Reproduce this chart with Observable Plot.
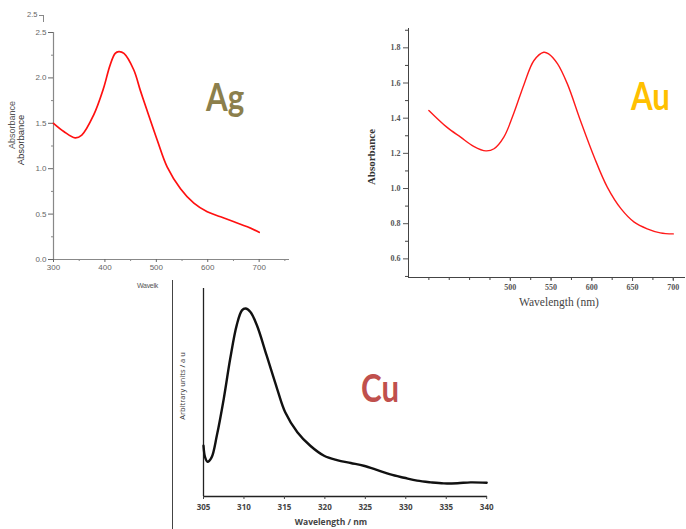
<!DOCTYPE html>
<html>
<head>
<meta charset="utf-8">
<script src="https://cdn.jsdelivr.net/npm/d3@7"></script>
<script src="https://cdn.jsdelivr.net/npm/@observablehq/plot@0.6"></script>
<style>
  html, body { margin: 0; padding: 0; background: #fff; }
  #stage { position: relative; width: 686px; height: 529px; overflow: hidden; background: #fff; }
  .lbl { position: absolute; white-space: nowrap; line-height: 1; }
  .big { font-family: Lato, "Open Sans", sans-serif; font-weight: 700; font-size: 39px; transform-origin: left top; transform: scaleX(0.8); }
  .rot { transform: translate(-50%, -50%) rotate(-90deg); }
</style>
</head>
<body>
<div id="stage"></div>
<script>
// ---------- Ag (silver) ----------
const agWave = [300, 320, 342, 355, 378, 397, 410, 420, 427, 437, 456, 469, 482, 502, 521, 547, 573, 599, 625, 651, 677, 700];
const agAbs  = [1.50, 1.41, 1.34, 1.37, 1.59, 1.88, 2.14, 2.27, 2.29, 2.27, 2.09, 1.86, 1.64, 1.31, 1.02, 0.78, 0.62, 0.525, 0.47, 0.415, 0.36, 0.30];
const agXTicks = [300, 400, 500, 600, 700];
const agXMinor = [350, 450, 550, 650, 750];
const agYTicks = [0, 0.5, 1.0, 1.5, 2.0, 2.5];
const agYMinor = [0.25, 0.75, 1.25, 1.75, 2.25];

// ---------- Au (gold) ----------
const auWave = [400, 422, 439, 455, 470, 480, 492, 504, 517, 529, 541, 547, 558, 570, 586, 603, 619, 636, 652, 668, 684, 700];
const auAbs  = [1.444, 1.349, 1.292, 1.240, 1.214, 1.226, 1.292, 1.425, 1.595, 1.728, 1.775, 1.766, 1.709, 1.595, 1.387, 1.178, 1.008, 0.884, 0.809, 0.771, 0.748, 0.742];
const auXTicks = [400, 425, 450, 475, 500, 525, 550, 575, 600, 625, 650, 675, 700];
const auXLabels = [500, 550, 600, 650, 700];
const auYTicks = [0.6, 0.8, 1.0, 1.2, 1.4, 1.6, 1.8];
const auYMinor = [0.5, 0.7, 0.9, 1.1, 1.3, 1.5, 1.7, 1.9];

// ---------- Cu (copper) ----------
const cuWave = [305, 305.2, 305.5, 306, 306.65, 307.5, 308.3, 309.1, 309.75, 310.2, 310.8, 311.6, 312.8, 314.1, 315.1, 316.6, 318.2, 319.9, 321.5, 323.2, 324.8, 326.5, 328.1, 329.8, 331.4, 333.1, 334.7, 336.4, 338, 340];
const cuVal  = [0.244, 0.188, 0.167, 0.188, 0.293, 0.469, 0.662, 0.823, 0.895, 0.904, 0.887, 0.823, 0.678, 0.518, 0.405, 0.309, 0.244, 0.196, 0.175, 0.161, 0.148, 0.127, 0.106, 0.090, 0.076, 0.068, 0.063, 0.064, 0.068, 0.066];
const cuXTicks = [305, 310, 315, 320, 325, 330, 335, 340];

const stage = document.getElementById("stage");
const W = 686, H = 529;
const svgStyle = (font, size, color, weight) => ({
  position: "absolute", left: "0px", top: "0px", background: "none", overflow: "visible",
  fontFamily: font, fontSize: size, color: color, fontWeight: weight
});

const agData = agWave.map((x, i) => ({x, y: agAbs[i]}));
const auData = auWave.map((x, i) => ({x, y: auAbs[i]}));
const cuData = cuWave.map((x, i) => ({x, y: cuVal[i]}));

// Ag panel
const agDomX = [300, 759], agDomY = [0, 2.5];
stage.appendChild(Plot.plot({
  width: W, height: H,
  marginLeft: 53, marginRight: W - 289, marginTop: 32, marginBottom: H - 259,
  style: svgStyle("'Liberation Sans', Arial, sans-serif", "8px", "#555", "400"),
  x: {domain: agDomX, label: null},
  y: {domain: agDomY, label: null},
  marks: [
    Plot.ruleX([agDomX[0]], {stroke: "#888", strokeWidth: 1.2}),
    Plot.ruleY([agDomY[0]], {stroke: "#888", strokeWidth: 1.2}),
    Plot.axisX(agXTicks, {tickSize: 3, tickPadding: 2, color: "#666", tickFormat: d => d, label: null}),
    Plot.axisX(agXMinor, {tickSize: 2, tickFormat: () => "", label: null, color: "#888"}),
    Plot.axisY(agYTicks, {tickSize: 5, tickPadding: 2, color: "#666", tickFormat: d => d.toFixed(1), label: null}),
    Plot.axisY(agYMinor, {tickSize: 2, tickFormat: () => "", label: null, color: "#888"}),
    Plot.line(agData, {x: "x", y: "y", stroke: "#ff1010", strokeWidth: 1.7, curve: "catmull-rom"})
  ]
}));

// Au panel
const auDomX = [375, 715], auDomY = [0.494, 1.91];
stage.appendChild(Plot.plot({
  width: W, height: H,
  marginLeft: 408, marginRight: W - 685, marginTop: 28, marginBottom: H - 277,
  style: svgStyle("'Liberation Serif', 'Times New Roman', serif", "8px", "#555", "700"),
  x: {domain: auDomX, label: null},
  y: {domain: auDomY, label: null},
  marks: [
    Plot.ruleX([auDomX[0]], {stroke: "#444", strokeWidth: 1}),
    Plot.ruleY([auDomY[0]], {stroke: "#444", strokeWidth: 1}),
    Plot.axisX(auXTicks, {tickSize: 3, tickFormat: () => "", label: null, color: "#444"}),
    Plot.axisX(auXLabels, {tickSize: 4, tickPadding: 3, tickFormat: d => d, label: null, color: "#555"}),
    Plot.axisY(auYTicks, {tickSize: 5, tickPadding: 3, tickFormat: d => d.toFixed(1), label: null, color: "#555"}),
    Plot.axisY(auYMinor, {tickSize: 3, tickFormat: () => "", label: null, color: "#444"}),
    Plot.line(auData, {x: "x", y: "y", stroke: "#ff1a1a", strokeWidth: 1.4, curve: "catmull-rom"})
  ]
}));

// Cu panel (no y ticks in the source: arbitrary units)
const cuDomX = [305, 340.1], cuDomY = [0, 1];
stage.appendChild(Plot.plot({
  width: W, height: H,
  marginLeft: 203, marginRight: W - 487, marginTop: 288, marginBottom: H - 496,
  style: svgStyle("'Open Sans', 'DejaVu Sans', sans-serif", "8px", "#444", "700"),
  x: {domain: cuDomX, label: null},
  y: {domain: cuDomY, axis: null, label: null},
  marks: [
    Plot.ruleX([cuDomX[0]], {stroke: "#222", strokeWidth: 1.3}),
    Plot.ruleY([cuDomY[0]], {stroke: "#222", strokeWidth: 1.3}),
    Plot.axisX(cuXTicks, {tickSize: 3, tickPadding: 5, tickFormat: d => d, label: null, color: "#444"}),
    Plot.line(cuData, {x: "x", y: "y", stroke: "#111", strokeWidth: 2.4, curve: "catmull-rom"})
  ]
}));

// ---------- text overlays ----------
function addLabel(text, css, cls) {
  const d = document.createElement("div");
  d.className = "lbl " + (cls || "");
  d.textContent = text;
  Object.assign(d.style, css);
  stage.appendChild(d);
  return d;
}
// element names
addLabel("Ag", {left: "206px", top: "77px", color: "#8c7f4c"}, "big");
addLabel("Au", {left: "631px", top: "76px", color: "#ffc000"}, "big");
addLabel("Cu", {left: "361px", top: "368px", color: "#c0504d"}, "big");

// Ag axis titles (duplicated as in the source image)
addLabel("Absorbance", {left: "12px", top: "125px", fontFamily: "'Liberation Sans', Arial, sans-serif", fontSize: "9px", color: "#555"}, "rot");
addLabel("Absorbance", {left: "21px", top: "140px", fontFamily: "'Liberation Sans', Arial, sans-serif", fontSize: "9.5px", color: "#333"}, "rot");
addLabel("Wavelk", {left: "137px", top: "282px", fontFamily: "'Liberation Sans', Arial, sans-serif", fontSize: "7px", color: "#555", letterSpacing: "-0.3px"});
addLabel("2.5", {left: "27px", top: "11px", fontFamily: "'Liberation Sans', Arial, sans-serif", fontSize: "7.5px", color: "#666"});
const br = document.createElement("div");
Object.assign(br.style, {position: "absolute", left: "39px", top: "15px", width: "4px", height: "6px", borderTop: "1px solid #888", borderRight: "1px solid #888"});
stage.appendChild(br);

// Au axis titles
addLabel("Absorbance", {left: "371px", top: "157px", fontFamily: "'Liberation Serif', 'Times New Roman', serif", fontSize: "11px", fontWeight: "700", color: "#333"}, "rot");
addLabel("Wavelength (nm)", {left: "559px", top: "303px", transform: "translate(-50%, -50%)", fontFamily: "'Liberation Serif', 'Times New Roman', serif", fontSize: "11.5px", color: "#444"});

// Cu axis titles
addLabel("Arbitrary units / a u", {left: "183px", top: "386px", fontFamily: "'Open Sans', 'DejaVu Sans', sans-serif", fontSize: "7.5px", color: "#333"}, "rot");
addLabel("Wavelength / nm", {left: "331px", top: "522px", transform: "translate(-50%, -50%)", fontFamily: "'Open Sans', 'DejaVu Sans', sans-serif", fontSize: "8.5px", fontWeight: "700", color: "#444"});

// frame line at left of the Cu panel
const fr = document.createElement("div");
Object.assign(fr.style, {position: "absolute", left: "172px", top: "280px", width: "0px", height: "249px", borderLeft: "1px solid #444"});
stage.appendChild(fr);
</script>
</body>
</html>
